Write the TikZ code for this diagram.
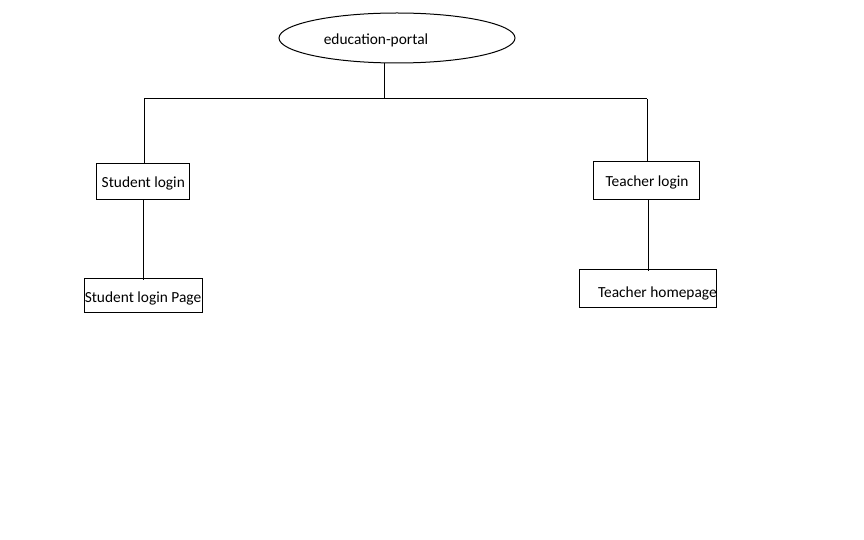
\documentclass[tikz,border=0pt]{standalone}
\usepackage{fontspec}
\setmainfont{Carlito}
\usetikzlibrary{shapes.geometric}
\newcommand{\lowr}[2]{\raisebox{-#1}[\height][\depth]{#2}}
\tikzset{
  lbl/.style={font=\fontsize{15.4}{18}\selectfont, text=black, inner sep=0pt},
  box/.style={draw, line width=1pt, inner sep=0pt, lbl},
  oval/.style={draw, ellipse, line width=1pt, inner sep=0pt},
  conn/.style={line width=1pt}
}
\begin{document}
\begin{tikzpicture}[x=1pt,y=-1pt]
\fill[white] (0,0) rectangle (864,540);
\useasboundingbox (0,0) rectangle (864,540);
% root
\node[oval, minimum width=236pt, minimum height=50pt] (root) at (397,38) {};
\node[lbl] (roottext) at (376,40.5) {education-portal};
% boxes
\node[box, minimum width=93pt, minimum height=35pt] (sl) at (143.3,181.5) {\lowr{2pt}{Student login}};
\node[box, minimum width=118pt, minimum height=34pt] (sp) at (143,295) {\lowr{3.5pt}{Student login Page}};
\node[box, minimum width=106pt, minimum height=37pt] (tl) at (646,180.5) {\lowr{2pt}{\hspace*{2pt}Teacher login}};
\node[box, minimum width=137pt, minimum height=38pt] (th) at (647.5,288) {\lowr{5.5pt}{\makebox[137pt][l]{\hspace*{19pt}Teacher homepage}}};
% junctions
\coordinate (j0) at (384,99);
\coordinate (jl) at (144,99);
\coordinate (jr) at (647,99);
% connectors
\draw[conn] (root.south -| j0) -- (j0);
\draw[conn] (jl) -- (jr);
\draw[conn] (jl) -- (sl.north -| jl);
\draw[conn] (jr) -- (tl.north -| jr);
\draw[conn] (sl.south) -- ([yshift=-2pt]sl.south |- sp.north);
\coordinate (tx) at (648,0);
\draw[conn] (tl.south -| tx) -- ([yshift=-2pt]th.north -| tx);
\end{tikzpicture}
\end{document}
